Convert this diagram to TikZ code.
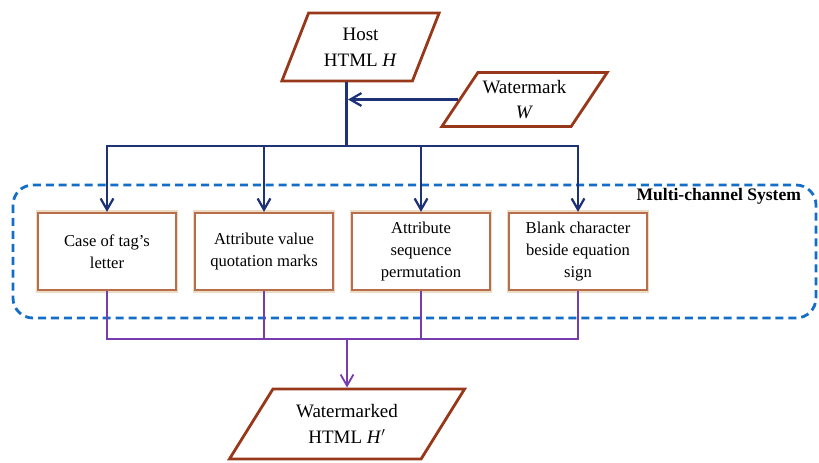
\documentclass[tikz,border=0pt]{standalone}
\usepackage{fontspec}
\setmainfont{Liberation Serif}
\usetikzlibrary{shapes.geometric, arrows.meta, shadows}

\definecolor{paraedge}{RGB}{152,56,26}
\definecolor{boxedge}{RGB}{185,110,75}
\definecolor{boxglow}{RGB}{236,220,196}
\definecolor{navyline}{RGB}{30,50,120}
\definecolor{purpleline}{RGB}{120,60,175}
\definecolor{dashblue}{RGB}{20,110,200}

\begin{document}
\begin{tikzpicture}[x=0.025cm, y=-0.025cm, >={Straight Barb[length=2.8mm, width=3.2mm]}]
    \tikzstyle{io} = [draw=paraedge, line width=2pt, fill=white, trapezium, trapezium stretches=true, align=center, font=\fontsize{13.5}{18.4}\selectfont, drop shadow={opacity=0.25, shadow xshift=0.6pt, shadow yshift=-0.6pt}]
    \tikzstyle{channel} = [draw=boxedge, line width=1.4pt, fill=white, rectangle, minimum width=3.43cm, minimum height=1.93cm, align=center, font=\fontsize{11.8}{15.4}\selectfont, preaction={draw=boxglow, line width=4pt}]
    \tikzstyle{feed} = [draw=navyline, line width=1.6pt]
    \tikzstyle{gather} = [draw=purpleline, line width=1.3pt]
    \tikzstyle{frame} = [draw=dashblue, line width=2pt, dash pattern=on 5.7pt off 3.5pt, rounded corners=0.5cm]

    \useasboundingbox (0,0) rectangle (819,462);

    % multi-channel frame
    \draw [frame] (13,185) rectangle (816,318);
    \node [anchor=east, font=\bfseries\fontsize{12.5}{14}\selectfont] (mctitle) at (806,196) {Multi-channel System};

    \node [io, minimum width=3.95cm, minimum height=1.7cm, trapezium left angle=66, trapezium right angle=114] (host) at (360.5,47) {Host\\HTML \textit{H}};
    \node [io, minimum width=3.83cm, minimum height=1.35cm, trapezium left angle=53.5, trapezium right angle=126.5] (wm) at (524.5,99.5) {Watermark\\\textit{W}};

    \node [channel] (case) at (107,251.5) {Case of tag's\\letter};
    \node [channel] (quote) at (264,251.5) {Attribute value\\quotation marks};
    \node [channel] (order) at (421,251.5) {Attribute\\sequence\\permutation};
    \node [channel] (blank) at (578,251.5) {Blank character\\beside equation\\sign};

    \node [io, minimum width=5.88cm, minimum height=1.75cm, trapezium left angle=56, trapezium right angle=124] (out) at (347,424) {Watermarked\\HTML \textit{H}$'$};

    % embedding side
    \coordinate (split) at (host.bottom side |- 0,146);
    \draw [feed] (host.bottom side) -- (split);
    \draw [feed, ->, shorten >=1pt] (wm.left side) -- (wm.left side -| host.bottom side);
    \draw [feed, ->] (split) -| (case.north);
    \draw [feed, ->] (split) -| (quote.north);
    \draw [feed, ->] (split) -| (order.north);
    \draw [feed, ->] (split) -| (blank.north);

    % output side
    \coordinate (join) at (out.north |- 0,339);
    \draw [gather] (case.south) |- (join);
    \draw [gather] (quote.south) |- (join);
    \draw [gather] (order.south) |- (join);
    \draw [gather] (blank.south) |- (join);
    \draw [gather, ->] (join) -- (out.north);
\end{tikzpicture}
\end{document}
